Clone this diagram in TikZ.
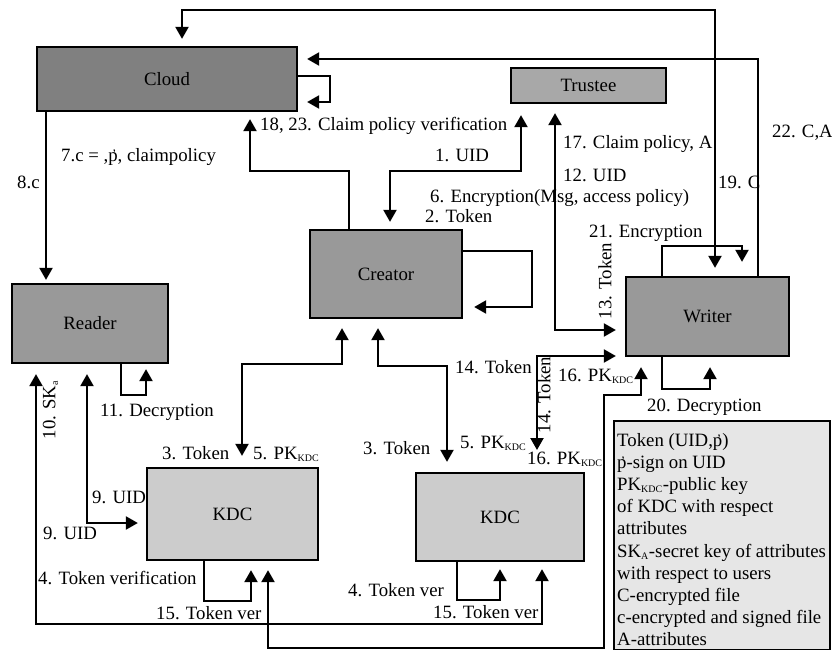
\documentclass[tikz,border=0pt]{standalone}
\usepackage{fontspec}
\setmainfont{Liberation Serif}
\usetikzlibrary{arrows.meta,calc}
\definecolor{cloudgray}{HTML}{808080}
\definecolor{boxgray}{HTML}{999999}
\definecolor{trusteegray}{HTML}{A8A8A8}
\definecolor{kdcgray}{HTML}{CCCCCC}
\definecolor{leggray}{HTML}{E6E6E6}
\newcommand{\kdcsub}{\textsubscript{\fontsize{10}{10}\selectfont KDC}}
\newcommand{\pmark}{\leavevmode\rlap{\raisebox{0.12em}{\kern0.2em\fontsize{13}{13}\selectfont ’}}p}
\begin{document}
\begin{tikzpicture}[x=1pt,y=-1pt,
  font=\fontsize{18.8}{22}\selectfont,
  box/.style={draw, line width=2.3pt, inner sep=0pt},
  conn/.style={line width=2.2pt, -{Triangle[length=12pt,width=13pt]}},
  dconn/.style={line width=2.2pt, {Triangle[length=12pt,width=13pt]}-{Triangle[length=12pt,width=13pt]}},
  lab/.style={inner sep=0pt, anchor=base west},
  rlab/.style={inner sep=0pt, rotate=90, text height=0.68em, text depth=0.2em}]
\useasboundingbox (0,0) rectangle (832,650);
\fill[white] (0,0) rectangle (832,650);

% boxes
\node[box, fill=cloudgray, minimum width=260pt, minimum height=64pt] (cloud) at (167,79) {Cloud};
\node[box, fill=trusteegray, minimum width=155pt, minimum height=35pt] (trustee) at (588.5,85.5) {Trustee};
\node[box, fill=boxgray, minimum width=156pt, minimum height=79pt] (reader) at (90,323.5) {Reader};
\node[box, fill=boxgray, minimum width=152pt, minimum height=88pt] (creator) at (386,274) {Creator};
\node[box, fill=boxgray, minimum width=163pt, minimum height=79pt] (writer) at (707.5,316.5) {Writer};
\node[box, fill=kdcgray, minimum width=171pt, minimum height=92pt] (kdca) at (232.5,514) {KDC};
\node[box, fill=kdcgray, minimum width=168pt, minimum height=88pt] (kdcb) at (500,517) {KDC};
\node[box, fill=leggray, line width=1.6pt, minimum width=216pt, minimum height=229pt, anchor=north west] (legend) at (613,420) {};

% connectors
\draw[dconn, shorten <=7pt, shorten >=8pt] (182,0 |- cloud.north) -- (182,10) -| (715,0 |- writer.north);
\draw[conn, shorten >=9pt] (758,0 |- writer.north) |- (cloud.east |- 0,59);
\draw[conn, shorten >=9pt] (cloud.east |- 0,76) -| (330,102) -- (cloud.east |- 0,102);
\draw[conn, shorten >=3pt] (46,0 |- cloud.south) -- (46,0 |- reader.north);
\draw[conn, shorten >=7pt] (349,0 |- creator.north) |- (250,171) -- (250,0 |- cloud.south);
\draw[dconn, shorten <=11pt, shorten >=7pt] (521,0 |- trustee.south) |- (390,171) -- (390,0 |- creator.north);
\draw[dconn, shorten <=9pt, shorten >=9pt] (555,0 |- trustee.south) |- (writer.west |- 0,330);
\draw[conn, shorten >=14pt] (662,0 |- writer.north) |- (742,246) -- (742,0 |- writer.north);
\draw[conn, shorten >=10pt] (662,0 |- writer.south) |- (710,389) -- (710,0 |- writer.south);
\draw[conn, shorten >=11pt] (creator.east |- 0,251) -| (532,307) -- (creator.east |- 0,307);
\draw[dconn, shorten <=9pt, shorten >=11pt] (342,0 |- creator.south) |- (242,364) -- (242,0 |- kdca.north);
\draw[dconn, shorten <=9pt, shorten >=10pt] (378,0 |- creator.south) |- (447,366) -- (447,0 |- kdcb.north);
\coordinate (tokend) at (537,450);
\draw[dconn, shorten <=9pt] (writer.west |- 0,356) -| (tokend);
\draw[dconn, shorten <=9pt, shorten >=10pt] (268,0 |- kdca.south) |- (604,648) |- (641,395) -- (641,0 |- writer.south);
\draw[dconn, shorten <=10pt, shorten >=7pt] (36,0 |- reader.south) |- (542,624) -- (542,0 |- kdcb.south);
\draw[dconn, shorten <=10pt, shorten >=8pt] (87,0 |- reader.south) |- (kdca.west |- 0,523);
\draw[conn, shorten >=5pt] (121,0 |- reader.south) |- (146,395) -- (146,0 |- reader.south);
\draw[conn, shorten >=9pt] (204,0 |- kdca.south) |- (251,601) -- (251,0 |- kdca.south);
\draw[conn, shorten >=7pt] (457,0 |- kdcb.south) |- (500,600) -- (500,0 |- kdcb.south);

% labels
\node[lab] (l7) at (61,161) {7.c = ,\pmark, claimpolicy};
\node[lab] (l8) at (17,188) {8.c};
\node[lab] (l18) at (260,131) {18, 23. Claim policy verification};
\node[lab] (l1) at (435,161) {1. UID};
\node[lab] (l6) at (430,202) {6. Encryption(Msg, access policy)};
\node[lab] (l2) at (425,222) {2. Token};
\node[lab] (l17) at (563,149) {17. Claim policy, A};
\node[lab] (l12) at (563,181) {12. UID};
\node[lab] (l22) at (772,138) {22. C,A};
\node[lab] (l19) at (718,188) {19. C};
\node[lab] (l21) at (589,237) {21. Encryption};
\node[lab] (l20) at (647,411) {20. Decryption};
\node[lab] (l11) at (100,416) {11. Decryption};
\node[lab] (l14a) at (455,373) {14. Token};
\node[lab] (l16a) at (558,381) {16. PK\kdcsub};
\node[lab] (l16b) at (527,464) {16. PK\kdcsub};
\node[lab] (l5b) at (460,448) {5. PK\kdcsub};
\node[lab] (l5a) at (253,459) {5. PK\kdcsub};
\node[lab] (l3a) at (162,459) {3. Token};
\node[lab] (l3b) at (363,454) {3. Token};
\node[lab] (l9a) at (92,503) {9. UID};
\node[lab] (l9b) at (43,539) {9. UID};
\node[lab] (l4a) at (38,584) {4. Token verification};
\node[lab] (l15a) at (156,619) {15. Token ver};
\node[lab] (l15b) at (433,618) {15. Token ver};
\node[lab] (l4b) at (348,596) {4. Token ver};
\node[rlab] (l13) at (609,281) {13. Token};
\node[rlab] (l10) at (53,410) {10. SK\textsubscript{\fontsize{10}{10}\selectfont a}};
\node[rlab] (l14b) at (548,395) {14. Token};

% legend text
\node[lab] (g1) at (617,446) {Token (UID,\pmark)};
\node[lab] (g2) at (617,468.2) {\pmark-sign on UID};
\node[lab] (g3) at (617,490.4) {PK\kdcsub-public key};
\node[lab] (g4) at (617,512.6) {of KDC with respect};
\node[lab] (g5) at (617,534.8) {attributes};
\node[lab] (g6) at (617,557) {SK\textsubscript{\fontsize{10}{10}\selectfont A}-secret key of attributes};
\node[lab] (g7) at (617,579.2) {with respect to users};
\node[lab] (g8) at (617,601.4) {C-encrypted file};
\node[lab] (g9) at (617,623.6) {c-encrypted and signed file};
\node[lab] (g10) at (617,645.8) {A-attributes};
\end{tikzpicture}
\end{document}
